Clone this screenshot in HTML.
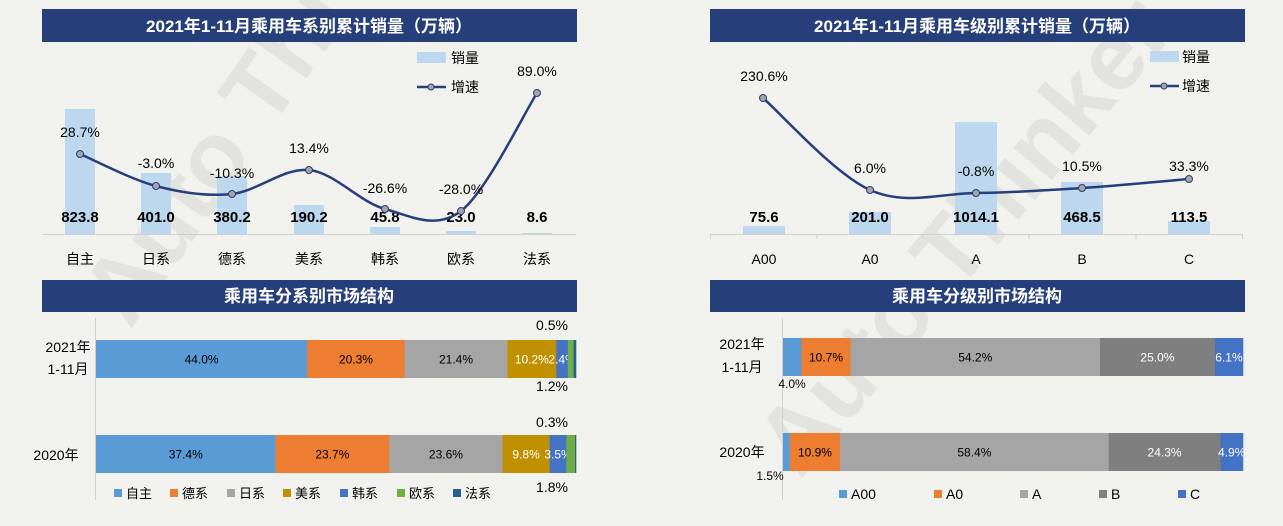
<!DOCTYPE html>
<html><head><meta charset="utf-8"><style>
html,body{margin:0;padding:0;background:#f1f2ed;}
svg{display:block;font-family:"Liberation Sans","Noto Sans CJK SC",sans-serif;}
</style></head><body>
<svg id="s" width="1283" height="526" viewBox="0 0 1283 526" xmlns="http://www.w3.org/2000/svg">
<rect width="1283" height="526" fill="#f1f2ed"/>
<!-- watermark -->
<g fill="#dcdcd8" opacity="0.7">
<text x="130" y="330" font-size="95" font-weight="bold" transform="rotate(-55 130 330)">Auto Thi</text>
<text x="800" y="480" font-size="95" font-weight="bold" transform="rotate(-50 800 480)">Auto Thinker</text>
</g>
<!-- title bars -->
<rect x="42" y="9" width="535" height="33" fill="#263e79"/>
<text x="309" y="32" fill="#fff" font-size="17" font-weight="bold" text-anchor="middle">2021年1-11月乘用车系别累计销量（万辆）</text>
<rect x="710" y="9" width="535" height="33" fill="#263e79"/>
<text x="977" y="32" fill="#fff" font-size="17" font-weight="bold" text-anchor="middle">2021年1-11月乘用车级别累计销量（万辆）</text>
<rect x="42" y="280" width="535" height="32" fill="#263e79"/>
<text x="309" y="302" fill="#fff" font-size="17" font-weight="bold" text-anchor="middle">乘用车分系别市场结构</text>
<rect x="710" y="280" width="535" height="32" fill="#263e79"/>
<text x="977" y="302" fill="#fff" font-size="17" font-weight="bold" text-anchor="middle">乘用车分级别市场结构</text>

<!-- top-left chart -->
<line x1="42" y1="234.5" x2="576" y2="234.5" stroke="#d0d0d0"/>
<g fill="#bdd7ee">
<rect x="65" y="109" width="30" height="125"/>
<rect x="141" y="173" width="30" height="61"/>
<rect x="217" y="176" width="30" height="58"/>
<rect x="294" y="205" width="30" height="29"/>
<rect x="370" y="227" width="30" height="7"/>
<rect x="446" y="231" width="30" height="3"/>
<rect x="522" y="233" width="30" height="1"/>
</g>
<g font-size="15" font-weight="bold" text-anchor="middle" fill="#000">
<text x="80" y="222">823.8</text><text x="156" y="222">401.0</text><text x="232" y="222">380.2</text>
<text x="309" y="222">190.2</text><text x="385" y="222">45.8</text><text x="461" y="222">23.0</text><text x="537" y="222">8.6</text>
</g>
<path id="l1" fill="none" stroke="#263e79" stroke-width="2.5"/>
<g fill="#a5a5a5" stroke="#263e79" stroke-width="1">
<circle cx="80" cy="154" r="3.5"/><circle cx="156" cy="186" r="3.5"/><circle cx="232" cy="194" r="3.5"/>
<circle cx="309" cy="170" r="3.5"/><circle cx="385" cy="209" r="3.5"/><circle cx="461" cy="211" r="3.5"/><circle cx="537" cy="93" r="3.5"/>
</g>
<g font-size="14" text-anchor="middle" fill="#000">
<text x="80" y="137">28.7%</text><text x="156" y="168">-3.0%</text><text x="232" y="178">-10.3%</text>
<text x="309" y="153">13.4%</text><text x="385" y="193">-26.6%</text><text x="461" y="194">-28.0%</text><text x="537" y="76">89.0%</text>
</g>
<g font-size="14" text-anchor="middle" fill="#000">
<text x="80" y="264">自主</text><text x="156" y="264">日系</text><text x="232" y="264">德系</text><text x="309" y="264">美系</text>
<text x="385" y="264">韩系</text><text x="461" y="264">欧系</text><text x="537" y="264">法系</text>
</g>
<rect x="417" y="52" width="29" height="11" fill="#bdd7ee"/>
<text x="451" y="63" font-size="14">销量</text>
<line x1="417" y1="87" x2="446" y2="87" stroke="#263e79" stroke-width="2.5"/>
<circle cx="431" cy="87" r="3" fill="#a5a5a5" stroke="#263e79"/>
<text x="451" y="92" font-size="14">增速</text>

<!-- top-right chart -->
<line x1="710" y1="234.5" x2="1243" y2="234.5" stroke="#d0d0d0"/>
<g stroke="#d0d0d0"><line x1="710.5" y1="234" x2="710.5" y2="239"/><line x1="817" y1="234" x2="817" y2="239"/><line x1="923" y1="234" x2="923" y2="239"/><line x1="1029" y1="234" x2="1029" y2="239"/><line x1="1136" y1="234" x2="1136" y2="239"/><line x1="1242.5" y1="234" x2="1242.5" y2="239"/></g>
<g fill="#bdd7ee">
<rect x="743" y="226" width="42" height="8"/>
<rect x="849" y="212" width="42" height="22"/>
<rect x="955" y="122" width="42" height="112"/>
<rect x="1061" y="182" width="42" height="52"/>
<rect x="1168" y="221" width="42" height="13"/>
</g>
<g font-size="15" font-weight="bold" text-anchor="middle" fill="#000">
<text x="764" y="222">75.6</text><text x="870" y="222">201.0</text><text x="976" y="222">1014.1</text><text x="1082" y="222">468.5</text><text x="1189" y="222">113.5</text>
</g>
<path id="l2" fill="none" stroke="#263e79" stroke-width="2.5"/>
<g fill="#a5a5a5" stroke="#263e79" stroke-width="1">
<circle cx="763" cy="98" r="3.5"/><circle cx="870" cy="190" r="3.5"/><circle cx="976" cy="193" r="3.5"/><circle cx="1082" cy="188" r="3.5"/><circle cx="1189" cy="179" r="3.5"/>
</g>
<g font-size="14" text-anchor="middle" fill="#000">
<text x="764" y="81">230.6%</text><text x="870" y="173">6.0%</text><text x="976" y="176">-0.8%</text><text x="1082" y="171">10.5%</text><text x="1189" y="171">33.3%</text>
</g>
<g font-size="14" text-anchor="middle" fill="#000">
<text x="764" y="264">A00</text><text x="870" y="264">A0</text><text x="976" y="264">A</text><text x="1082" y="264">B</text><text x="1189" y="264">C</text>
</g>
<rect x="1150" y="51" width="29" height="11" fill="#bdd7ee"/>
<text x="1182" y="62" font-size="14">销量</text>
<line x1="1150" y1="86" x2="1179" y2="86" stroke="#263e79" stroke-width="2.5"/>
<circle cx="1164" cy="86" r="3" fill="#a5a5a5" stroke="#263e79"/>
<text x="1182" y="91" font-size="14">增速</text>

<!-- bottom-left -->
<line x1="95.5" y1="318" x2="95.5" y2="500" stroke="#d0d0d0"/>
<g id="bl"></g>
<g font-size="14" fill="#000">
<text x="68" y="352" text-anchor="middle">2021年</text><text x="68" y="374" text-anchor="middle">1-11月</text>
<text x="56" y="460" text-anchor="middle">2020年</text>
<text x="552" y="330" text-anchor="middle">0.5%</text><text x="552" y="391" text-anchor="middle">1.2%</text>
<text x="552" y="427" text-anchor="middle">0.3%</text><text x="552" y="492" text-anchor="middle">1.8%</text>
</g>
<g font-size="13" fill="#000">
<rect x="114" y="489" width="8" height="8" fill="#5b9bd5"/><text x="126" y="498">自主</text>
<rect x="170" y="489" width="8" height="8" fill="#ed7d31"/><text x="182" y="498">德系</text>
<rect x="227" y="489" width="8" height="8" fill="#a5a5a5"/><text x="239" y="498">日系</text>
<rect x="283" y="489" width="8" height="8" fill="#bf9000"/><text x="295" y="498">美系</text>
<rect x="340" y="489" width="8" height="8" fill="#4472c4"/><text x="352" y="498">韩系</text>
<rect x="397" y="489" width="8" height="8" fill="#70ad47"/><text x="409" y="498">欧系</text>
<rect x="453" y="489" width="8" height="8" fill="#255e91"/><text x="465" y="498">法系</text>
</g>

<!-- bottom-right -->
<line x1="782.5" y1="318" x2="782.5" y2="500" stroke="#d0d0d0"/>
<g id="br"></g>
<g font-size="14" fill="#000">
<text x="742" y="349" text-anchor="middle">2021年</text><text x="742" y="372" text-anchor="middle">1-11月</text>
<text x="742" y="457" text-anchor="middle">2020年</text>
</g>
<g font-size="12" fill="#000">
<text x="792" y="388" text-anchor="middle">4.0%</text><text x="770" y="480" text-anchor="middle">1.5%</text>
</g>
<g font-size="14" fill="#000">
<rect x="839" y="490" width="8" height="8" fill="#5b9bd5"/><text x="851" y="499">A00</text>
<rect x="934" y="490" width="8" height="8" fill="#ed7d31"/><text x="946" y="499">A0</text>
<rect x="1020" y="490" width="8" height="8" fill="#a5a5a5"/><text x="1032" y="499">A</text>
<rect x="1099" y="490" width="8" height="8" fill="#7f7f7f"/><text x="1111" y="499">B</text>
<rect x="1178" y="490" width="8" height="8" fill="#4472c4"/><text x="1190" y="499">C</text>
</g>
</svg>
<script>
function cr(p){var d="M"+p[0][0]+","+p[0][1];for(var i=0;i<p.length-1;i++){var a=p[i-1]||p[i],b=p[i],c=p[i+1],e=p[i+2]||c;
d+=" C"+(b[0]+(c[0]-a[0])/6)+","+(b[1]+(c[1]-a[1])/6)+" "+(c[0]-(e[0]-b[0])/6)+","+(c[1]-(e[1]-b[1])/6)+" "+c[0]+","+c[1];}return d;}
document.getElementById("l1").setAttribute("d",cr([[80,154],[156,186],[232,194],[309,170],[385,209],[461,211],[537,93]]));
document.getElementById("l2").setAttribute("d",cr([[763,98],[870,190],[976,193],[1082,188],[1189,179]]));
var NS="http://www.w3.org/2000/svg";
function bars(g,x0,W,y,h,vals,cols,labs,tc){var x=x0;for(var i=0;i<vals.length;i++){var w=W*vals[i]/100;var r=document.createElementNS(NS,"rect");
r.setAttribute("x",x);r.setAttribute("y",y);r.setAttribute("width",w+0.3);r.setAttribute("height",h);r.setAttribute("fill",cols[i]);g.appendChild(r);
if(labs[i]){var t=document.createElementNS(NS,"text");t.setAttribute("x",x+w/2);t.setAttribute("y",y+h/2+4.5);t.setAttribute("font-size","12");t.setAttribute("text-anchor","middle");t.setAttribute("fill",tc[i]);t.textContent=labs[i];g.appendChild(t);}x+=w;}}
var c1=["#5b9bd5","#ed7d31","#a5a5a5","#bf9000","#4472c4","#70ad47","#255e91"];
var tc1=["#000","#000","#000","#fff","#fff","#fff","#fff"];
var g=document.getElementById("bl");
bars(g,96,480,340,38,[44.0,20.3,21.4,10.2,2.4,1.2,0.5],c1,["44.0%","20.3%","21.4%","10.2%","2.4%","",""],tc1);
bars(g,96,480,435,38,[37.4,23.7,23.6,9.8,3.5,1.8,0.2],c1,["37.4%","23.7%","23.6%","9.8%","3.5%","",""],tc1);
var c2=["#5b9bd5","#ed7d31","#a5a5a5","#7f7f7f","#4472c4"];var tc2=["#000","#000","#000","#fff","#fff"];
var g2=document.getElementById("br");
bars(g2,783,460,338,38,[4.0,10.7,54.2,25.0,6.1],c2,["","10.7%","54.2%","25.0%","6.1%"],tc2);
bars(g2,783,460,433,38,[1.5,10.9,58.4,24.3,4.9],c2,["","10.9%","58.4%","24.3%","4.9%"],tc2);
</script>
</body></html>
